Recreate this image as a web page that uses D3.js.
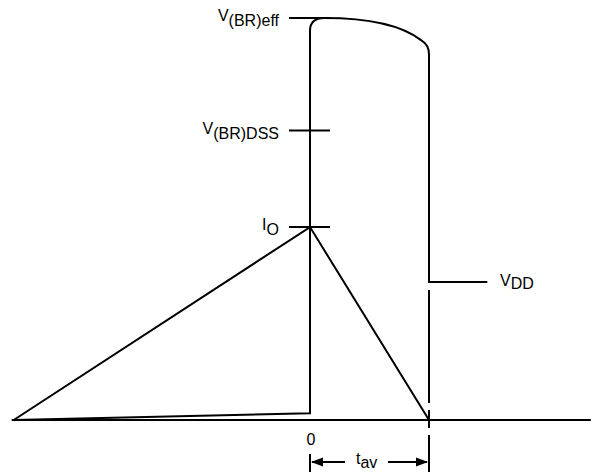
<!DOCTYPE html>
<html>
<head>
<meta charset="utf-8">
<script src="https://cdn.jsdelivr.net/npm/d3@7"></script>
<style>
  body { margin: 0; background: #fff; }
  text { font-family: "Liberation Sans", Arial, sans-serif; font-size: 16px; fill: #000; }
</style>
</head>
<body>
<div id="chart"></div>
<script>
// time in units of t_av (0 = start of avalanche), level in arbitrary units
var tStart = -2.49, tEnd = 2.36;

// level ticks on the left
var levelMain = ["V", "V", "I"];
var levelSub = ["(BR)eff", "(BR)DSS", "O"];
var levelValues = [100, 72, 48];

// V_DD level after avalanche
var vddValue = 34.3;
var vOn = 1.7;

// current waveform (triangle)
var currentT = [tStart, 0, 1];
var currentV = [0, 48, 0];

// voltage waveform key points: start, on-state, rise, top bulge, fall, V_DD
var voltT = [tStart, 0, 0, 0, 0.12, 0.445, 0.756, 0.933, 1, 1, 1, 1.49];
var voltV = [0, vOn, 96.8, 100, 100, 100, 98.5, 94.5, 93.3, 91, vddValue, vddValue];

var width = 604, height = 472;

var svg = d3.select("#chart")
  .append("svg")
    .attr("width", width)
    .attr("height", height);

var x = d3.scaleLinear()
  .domain([0, 1])
  .range([310, 429]);

var y = d3.scaleLinear()
  .domain([0, 100])
  .range([420, 18]);

var black = "#000";

// baseline
svg.append("line")
  .attr("x1", x(tStart) - 2).attr("x2", x(tEnd))
  .attr("y1", y(0)).attr("y2", y(0))
  .attr("stroke", black).attr("stroke-width", 2);

// current triangle
var line = d3.line().x(d => x(d[0])).y(d => y(d[1]));
svg.append("path")
  .attr("d", line(d3.zip(currentT, currentV)))
  .attr("fill", "none")
  .attr("stroke", black)
  .attr("stroke-width", 2)
  .attr("stroke-linejoin", "miter");

// voltage waveform
var p = d3.path();
p.moveTo(x(voltT[0]), y(voltV[0]));
p.lineTo(x(voltT[1]), y(voltV[1]));
p.lineTo(x(voltT[2]), y(voltV[2]));
p.quadraticCurveTo(x(voltT[3]), y(voltV[3]), x(voltT[4]), y(voltV[4]));
p.bezierCurveTo(x(voltT[5]), y(voltV[5]), x(voltT[6]), y(voltV[6]), x(voltT[7]), y(voltV[7]));
p.quadraticCurveTo(x(voltT[8]), y(voltV[8]), x(voltT[9]), y(voltV[9]));
p.lineTo(x(voltT[10]), y(voltV[10]));
p.lineTo(x(voltT[11]), y(voltV[11]));
svg.append("path")
  .attr("d", p.toString())
  .attr("fill", "none")
  .attr("stroke", black)
  .attr("stroke-width", 2);

// level ticks + labels
levelValues.forEach(function(v, i) {
  svg.append("line")
    .attr("x1", 289).attr("x2", 330)
    .attr("y1", y(v)).attr("y2", y(v))
    .attr("stroke", black).attr("stroke-width", 2);
  var t = svg.append("text")
    .attr("x", 279)
    .attr("y", y(v) + 3)
    .attr("text-anchor", "end");
  t.append("tspan").text(levelMain[i]);
  t.append("tspan").attr("dy", 5).text(levelSub[i]);
});

// V_DD label
var vdd = svg.append("text")
  .attr("x", 500)
  .attr("y", y(vddValue) + 4);
vdd.append("tspan").text("V");
vdd.append("tspan").attr("dy", 3).text("DD");

// dashed line at t_av
svg.append("line")
  .attr("x1", x(1)).attr("x2", x(1))
  .attr("y1", 290).attr("y2", 428)
  .attr("stroke", black).attr("stroke-width", 2)
  .attr("stroke-dasharray", "113,7,18");

// dimension extension lines
svg.append("line")
  .attr("x1", x(1)).attr("x2", x(1))
  .attr("y1", 435).attr("y2", 472)
  .attr("stroke", black).attr("stroke-width", 2);
svg.append("line")
  .attr("x1", x(0)).attr("x2", x(0))
  .attr("y1", 454).attr("y2", 472)
  .attr("stroke", black).attr("stroke-width", 2);

// "0" label
svg.append("text")
  .attr("x", x(0) + 1)
  .attr("y", 445)
  .attr("text-anchor", "middle")
  .text("0");

// dimension arrow
var ay = 462;
svg.append("line")
  .attr("x1", x(0) + 2).attr("x2", 345)
  .attr("y1", ay).attr("y2", ay)
  .attr("stroke", black).attr("stroke-width", 2);
svg.append("line")
  .attr("x1", 388).attr("x2", x(1) - 2)
  .attr("y1", ay).attr("y2", ay)
  .attr("stroke", black).attr("stroke-width", 2);
svg.append("path")
  .attr("d", "M" + (x(0) + 1) + "," + ay + " l12,-4.5 l0,9 z")
  .attr("fill", black);
svg.append("path")
  .attr("d", "M" + (x(1) - 1) + "," + ay + " l-12,-4.5 l0,9 z")
  .attr("fill", black);

var tav = svg.append("text")
  .attr("x", 356)
  .attr("y", 464);
tav.append("tspan").text("t");
tav.append("tspan").attr("dy", 4).text("av");
</script>
</body>
</html>
